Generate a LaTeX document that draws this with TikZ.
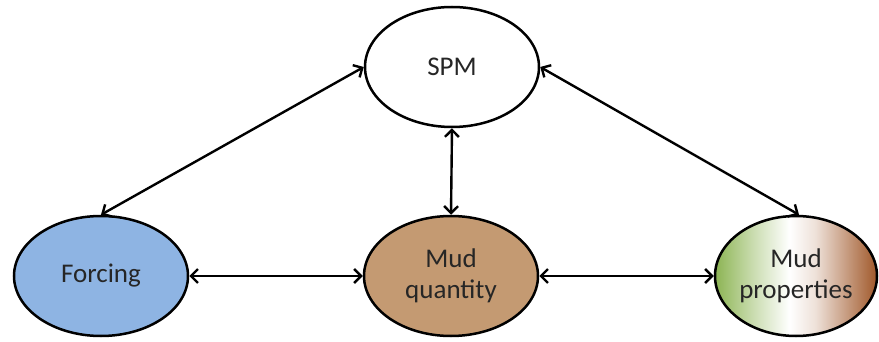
\documentclass[tikz,border=0pt]{standalone}
\usepackage{fontspec}
\setmainfont{Carlito}
\usetikzlibrary{arrows.meta,shapes.geometric}
\definecolor{forcingblue}{HTML}{8EB4E3}
\definecolor{mudtan}{HTML}{C49A72}
\definecolor{mudgreen}{HTML}{8CB453}
\definecolor{mudbrown}{HTML}{A0582A}
\definecolor{txt}{HTML}{262626}
\pgfdeclarehorizontalshading{mudshade}{100bp}{color(0bp)=(mudgreen); color(25bp)=(mudgreen); color(37bp)=(mudgreen!45!white); color(48bp)=(white); color(56bp)=(mudbrown!18!white); color(75bp)=(mudbrown); color(100bp)=(mudbrown)}
\tikzset{
  bubble/.style={ellipse, draw=black, line width=2.5pt, minimum width=174pt, minimum height=120pt, inner sep=0pt, align=center, font=\fontsize{27}{31}\selectfont, text=txt},
  link/.style={line width=2.4pt, {Straight Barb[length=7pt,width=14pt,line width=2.4pt]}-{Straight Barb[length=7pt,width=14pt,line width=2.4pt]}}
}
\begin{document}
\begin{tikzpicture}[x=1pt,y=-1pt]
\useasboundingbox (0,0) rectangle (879,342);
\node[bubble, fill=white] (spm) at (452,67) {SPM};
\node[bubble, fill=forcingblue] (forcing) at (101,276) {Forcing};
\node[bubble, fill=mudtan] (qty) at (451,276) {Mud\\quantity};
\node[bubble, minimum width=162pt, shading=mudshade] (prop) at (796,276) {Mud\\properties};
\draw[link] (spm.west) -- (forcing.north);
\draw[link] (spm.east) -- ([xshift=3pt]prop.north);
\draw[link] (spm.south) -- (qty.north);
\draw[link] (forcing.east) -- (qty.west);
\draw[link] (qty.east) -- (prop.west);
\end{tikzpicture}
\end{document}
